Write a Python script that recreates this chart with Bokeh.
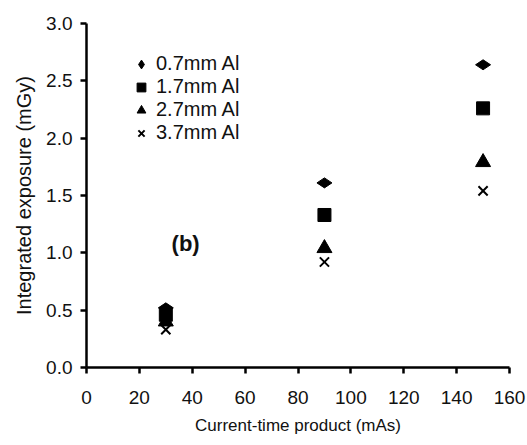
import numpy as np
from bokeh.plotting import figure
from bokeh.models import Legend, LegendItem, Label, FixedTicker, Range1d
from bokeh.embed import file_html
from bokeh.resources import INLINE

mas = [30, 90, 150]
al_07 = [0.52, 1.61, 2.64]
al_17 = [0.46, 1.33, 2.26]
al_27 = [0.40, 1.04, 1.79]
al_37 = [0.33, 0.92, 1.54]
labels = ["0.7mm Al", "1.7mm Al", "2.7mm Al", "3.7mm Al"]
x_ticks = [0, 20, 40, 60, 80, 100, 120, 140, 160]
y_ticks = [0.0, 0.5, 1.0, 1.5, 2.0, 2.5, 3.0]

FONT = "Liberation Sans"

p = figure(width=527, height=445, output_backend="svg", toolbar_location=None,
           x_range=Range1d(0, 160), y_range=Range1d(0, 3.0),
           min_border_left=86, min_border_right=18, min_border_top=23, min_border_bottom=78)
p.outline_line_color = None
p.grid.visible = False
p.background_fill_color = "white"

r1 = p.scatter(mas, al_07, marker="diamond", angle=np.pi / 2, size=15, color="black")
r2 = p.scatter(mas, al_17, marker="square", size=13, color="black")
r3 = p.scatter(mas, al_27, marker="triangle", size=15, color="black")
r4 = p.scatter(mas, al_37, marker="x", size=13, line_color="black", line_width=2)

for ax in (p.xaxis[0], p.yaxis[0]):
    ax.axis_line_width = 2.5
    ax.axis_line_color = "black"
    ax.major_tick_line_width = 2.5
    ax.major_tick_in = 0
    ax.major_tick_out = 6
    ax.minor_tick_line_color = None
    ax.major_label_text_font = FONT
    ax.major_label_text_color = "#111111"
    ax.axis_label_text_font = FONT
    ax.axis_label_text_font_style = "normal"
    ax.axis_label_text_color = "#111111"

p.xaxis.ticker = FixedTicker(ticks=x_ticks)
p.yaxis.ticker = FixedTicker(ticks=y_ticks)
p.yaxis.major_label_overrides = {t: f"{t:.1f}" for t in y_ticks}
p.xaxis.major_label_text_font_size = "19px"
p.yaxis.major_label_text_font_size = "19px"
p.xaxis.major_label_standoff = 17
p.yaxis.major_label_standoff = 8
p.xaxis.axis_label = "Current-time product (mAs)"
p.yaxis.axis_label = "Integrated exposure (mGy)"
p.xaxis.axis_label_text_font_size = "17px"
p.yaxis.axis_label_text_font_size = "20px"
p.xaxis.axis_label_standoff = 9
p.yaxis.axis_label_standoff = 8

legend = Legend(items=[LegendItem(label=l, renderers=[r]) for l, r in zip(labels, [r1, r2, r3, r4])],
                location=(44, 223), orientation="vertical",
                glyph_width=22, glyph_height=22, label_height=22, spacing=0,
                label_standoff=4, padding=0, margin=0,
                border_line_color=None, background_fill_alpha=0,
                label_text_font=FONT, label_text_font_size="20px", label_text_color="#111111")
p.add_layout(legend)

p.add_layout(Label(x=37.5, y=1.08, text="(b)", text_font=FONT, text_font_size="22px",
                   text_font_style="bold", text_align="center", text_baseline="middle",
                   text_color="#111111"))

open("out.html", "w").write(file_html(p, INLINE))
